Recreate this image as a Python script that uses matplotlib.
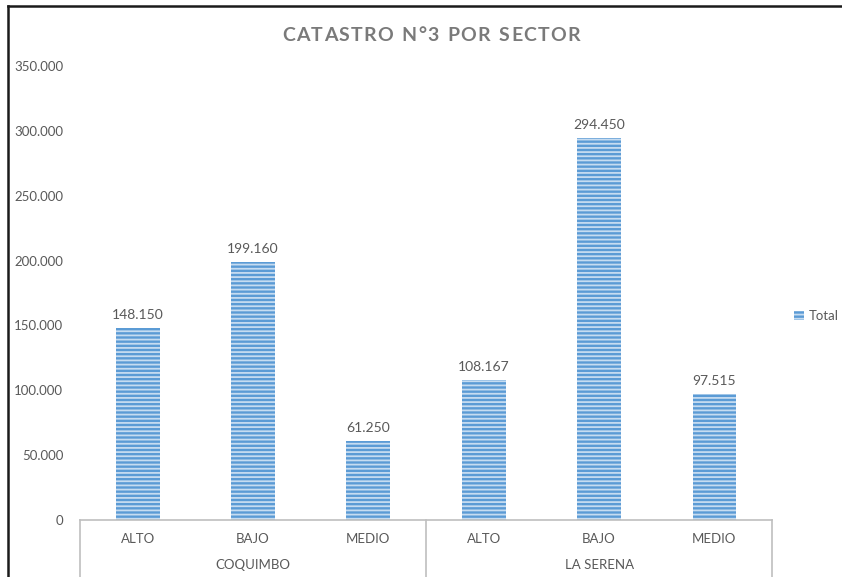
import matplotlib.pyplot as plt
from matplotlib.lines import Line2D
from matplotlib.patches import Patch
from matplotlib.ticker import FuncFormatter

# ---------- DATA ----------
sectors = ["ALTO", "BAJO", "MEDIO", "ALTO", "BAJO", "MEDIO"]
cities = ["COQUIMBO", "LA SERENA"]
totals = [148150, 199160, 61250, 108167, 294450, 97515]
series_name = "Total"
title = "CATASTRO N°3 POR SECTOR"

# ---------- STYLE ----------
plt.rcParams['font.family'] = ['Lato', 'DejaVu Sans']
text_gray = "#595959"
line_gray = "#bfbfbf"
bar_face = "#5b9bd5"
bar_stripe = "#c6dcf1"
plt.rcParams['hatch.linewidth'] = 1.3


def thousands(v, pos=None):
    return f"{v:,.0f}".replace(",", ".")


def spaced_title(fig, text, xc, yc, tracking_px, **kw):
    # lay out characters one by one so the title gets letter spacing
    r = fig.canvas.get_renderer()
    widths = []
    for ch in text:
        t = fig.text(0, 0, "I" if ch == " " else ch, **kw)
        widths.append(t.get_window_extent(renderer=r).width)
        t.remove()
    total = sum(widths) + tracking_px * (len(text) - 1)
    W = fig.bbox.width
    x = xc * W - total / 2
    for ch, w in zip(text, widths):
        if ch != " ":
            fig.text(x / W, yc, ch, ha="left", va="center", **kw)
        x += w + tracking_px


fig = plt.figure(figsize=(8.42, 5.77), dpi=100)
ax = fig.add_axes([0.095, 0.0988, 0.822, 0.7868])

x = list(range(len(totals)))
bars = ax.bar(x, totals, width=0.38, color=bar_face, edgecolor=bar_stripe,
              linewidth=0, hatch="----")

for xi, v in zip(x, totals):
    ax.annotate(thousands(v), (xi, v), xytext=(0, 5), textcoords="offset points",
                ha="center", va="bottom", fontsize=10, color=text_gray)

ax.set_xlim(-0.5, len(totals) - 0.5)
ax.set_ylim(0, 350000)
ax.set_yticks(range(0, 350001, 50000))
ax.yaxis.set_major_formatter(FuncFormatter(thousands))
ax.tick_params(axis="y", length=0, labelsize=9.5, labelcolor=text_gray, pad=12)
ax.set_xticks([])

for s in ["top", "right", "left"]:
    ax.spines[s].set_visible(False)
ax.spines["bottom"].set_color(line_gray)
ax.spines["bottom"].set_linewidth(1.2)

# two-level category axis
trans = ax.get_xaxis_transform()
for xi, s in zip(x, sectors):
    ax.text(xi, -0.042, s, transform=trans, ha="center", va="center",
            fontsize=9.5, color=text_gray)
for gi, city in enumerate(cities):
    ax.text(gi * 3 + 1, -0.099, city, transform=trans, ha="center", va="center",
            fontsize=9.5, color=text_gray)
for xb in [-0.5, 2.5, 5.5]:
    ax.plot([xb, xb], [0, -0.2], transform=trans, color=line_gray, lw=1.2,
            clip_on=False)

spaced_title(fig, title, 0.512, 0.938, 1.3,
             fontsize=14, fontweight="bold", color="#7a7a7a")

ax.legend(handles=[Patch(facecolor=bar_face, edgecolor=bar_stripe, hatch="----",
                         linewidth=0, label=series_name)],
          loc="center left", bbox_to_anchor=(1.015, 0.449), frameon=False,
          fontsize=9.5, labelcolor=text_gray, handlelength=0.7, handleheight=0.7,
          handletextpad=0.4)

# outer frame of the chart area
fig.add_artist(Line2D([0.0095, 0.0095], [0, 0.99], transform=fig.transFigure,
                      color="#1a1a1a", lw=1.8))
fig.add_artist(Line2D([0.0095, 1.0], [0.99, 0.99], transform=fig.transFigure,
                      color="#1a1a1a", lw=1.8))

fig.savefig("out.png", dpi=100)
